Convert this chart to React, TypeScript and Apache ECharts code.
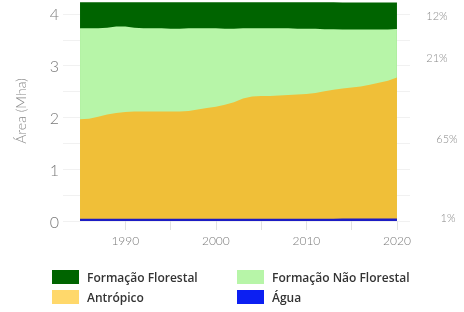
import React, { useEffect, useRef } from "react";
import * as echarts from "echarts";

const years = [
  1985, 1986, 1987, 1988, 1989, 1990, 1991, 1992, 1993, 1994, 1995, 1996,
  1997, 1998, 1999, 2000, 2001, 2002, 2003, 2004, 2005, 2006, 2007, 2008,
  2009, 2010, 2011, 2012, 2013, 2014, 2015, 2016, 2017, 2018, 2019, 2020,
];

const agua = [
  0.045, 0.045, 0.045, 0.045, 0.045, 0.045, 0.045, 0.045, 0.045, 0.045, 0.045, 0.045,
  0.045, 0.045, 0.045, 0.045, 0.045, 0.045, 0.045, 0.045, 0.045, 0.045, 0.045, 0.045,
  0.045, 0.045, 0.045, 0.045, 0.045, 0.05, 0.05, 0.05, 0.05, 0.05, 0.05, 0.05,
];

const antropico = [
  1.92, 1.93, 1.97, 2.01, 2.04, 2.06, 2.07, 2.07, 2.07, 2.07, 2.07, 2.07,
  2.08, 2.11, 2.14, 2.16, 2.2, 2.25, 2.32, 2.36, 2.37, 2.37, 2.38, 2.39,
  2.4, 2.41, 2.43, 2.46, 2.49, 2.51, 2.53, 2.55, 2.58, 2.62, 2.66, 2.72,
];

const naoFlorestal = [
  1.76, 1.75, 1.71, 1.68, 1.67, 1.65, 1.62, 1.61, 1.61, 1.61, 1.6, 1.6,
  1.6, 1.57, 1.54, 1.52, 1.47, 1.42, 1.36, 1.32, 1.31, 1.31, 1.3, 1.29,
  1.27, 1.26, 1.24, 1.2, 1.17, 1.14, 1.12, 1.1, 1.07, 1.03, 0.99, 0.94,
];

const florestal = [
  0.5, 0.5, 0.5, 0.49, 0.47, 0.47, 0.49, 0.5, 0.5, 0.5, 0.51, 0.51,
  0.5, 0.5, 0.5, 0.5, 0.51, 0.51, 0.5, 0.5, 0.5, 0.5, 0.5, 0.5,
  0.51, 0.51, 0.51, 0.52, 0.52, 0.52, 0.52, 0.52, 0.52, 0.52, 0.52, 0.51,
];

const xLabelYears = [1990, 2000, 2010, 2020];
const xTickYears = [1990, 1995, 2000, 2005, 2010, 2015, 2020];
const shareLabels = ["12%", "21%", "65%", "1%"];

const NAMES = {
  florestal: "Formação Florestal",
  naoFlorestal: "Formação Não Florestal",
  antropico: "Antrópico",
  agua: "Água",
};

const AXIS_FONT = "Lato, 'Open Sans', sans-serif";

export default function App() {
  const ref = useRef<HTMLDivElement>(null);

  useEffect(() => {
    if (!ref.current) return;
    const chart = echarts.init(ref.current, undefined, { renderer: "svg" });

    // stack bottom -> top: água, antrópico, não florestal, florestal
    const layers = [agua, antropico, naoFlorestal, florestal];
    const cum: number[][] = [];
    layers.forEach((arr, k) => {
      cum.push(arr.map((v, i) => v + (k > 0 ? cum[k - 1][i] : 0)));
    });

    const mk = (name: string, vals: number[], color: string, z: number) => ({
      name,
      type: "line",
      symbol: "none",
      z,
      lineStyle: { width: 0 },
      itemStyle: { color },
      areaStyle: { color, opacity: 1, origin: "start" },
      data: years.map((y, i) => [y, vals[i]]),
    });

    const shareText = (text: string, x: number, y: number) => ({
      type: "text",
      x,
      y,
      style: {
        text,
        fill: "#8a8a8a",
        font: `300 11px ${AXIS_FONT}`,
        textAlign: "center",
        textVerticalAlign: "middle",
      },
    });

    const legendText = {
      color: "#333",
      fontSize: 12,
      fontWeight: 600,
      fontFamily: "'Open Sans', sans-serif",
      padding: [0, 0, 0, 3],
    };

    chart.setOption({
      animation: false,
      grid: { left: 63, right: 54, top: 1, height: 220 },
      xAxis: {
        type: "value",
        min: 1983.12,
        max: 2021.44,
        axisLine: { show: false },
        splitLine: { show: false },
        axisTick: {
          show: true,
          length: 9,
          lineStyle: { color: "#e2e2e2" },
          customValues: xTickYears,
        },
        axisLabel: {
          color: "#7a7a7a",
          fontSize: 12,
          fontWeight: 300,
          fontFamily: AXIS_FONT,
          margin: 13,
          customValues: xLabelYears,
          formatter: (v: number) => String(v),
        },
      },
      yAxis: {
        type: "value",
        min: 0,
        max: 4.25,
        interval: 0.5,
        name: "Área (Mha)",
        nameLocation: "middle",
        nameGap: 36,
        nameRotate: 90,
        nameTextStyle: {
          color: "#8a8a8a",
          fontSize: 14,
          fontWeight: 300,
          fontFamily: AXIS_FONT,
        },
        axisLine: { show: false },
        axisTick: { show: false },
        axisLabel: {
          color: "#7a7a7a",
          fontSize: 16,
          fontWeight: 300,
          fontFamily: AXIS_FONT,
          margin: 4,
          showMaxLabel: false,
          formatter: (v: number) => (Math.abs(v - Math.round(v)) < 1e-6 ? String(Math.round(v)) : ""),
        },
        splitLine: {
          show: true,
          showMaxLine: false,
          lineStyle: { color: "#f1f1f1", width: 1 },
        },
      },
      legend: [
        {
          orient: "vertical",
          left: 52,
          top: 270,
          padding: 0,
          itemWidth: 27,
          itemHeight: 14,
          itemGap: 6,
          icon: "rect",
          textStyle: legendText,
          data: [
            { name: NAMES.florestal, itemStyle: { color: "#006400" } },
            { name: NAMES.antropico, itemStyle: { color: "#ffd86b" } },
          ],
        },
        {
          orient: "vertical",
          left: 237,
          top: 270,
          padding: 0,
          itemWidth: 27,
          itemHeight: 14,
          itemGap: 6,
          icon: "rect",
          textStyle: legendText,
          data: [
            { name: NAMES.naoFlorestal, itemStyle: { color: "#b7f5a8" } },
            { name: NAMES.agua, itemStyle: { color: "#0c1ff2" } },
          ],
        },
      ],
      graphic: [
        shareText(shareLabels[0], 437, 15),
        shareText(shareLabels[1], 437, 57),
        shareText(shareLabels[2], 447, 138),
        shareText(shareLabels[3], 448, 217),
      ],
      series: [
        mk(NAMES.florestal, cum[3], "#006400", 2),
        mk(NAMES.naoFlorestal, cum[2], "#b7f5a8", 3),
        mk(NAMES.antropico, cum[1], "#f0bf38", 4),
        mk(NAMES.agua, cum[0], "#1c1cc4", 5),
      ],
    });

    return () => chart.dispose();
  }, []);

  return (
    <div
      ref={ref}
      style={{ position: "fixed", left: 0, top: 0, width: 464, height: 312 }}
    />
  );
}
